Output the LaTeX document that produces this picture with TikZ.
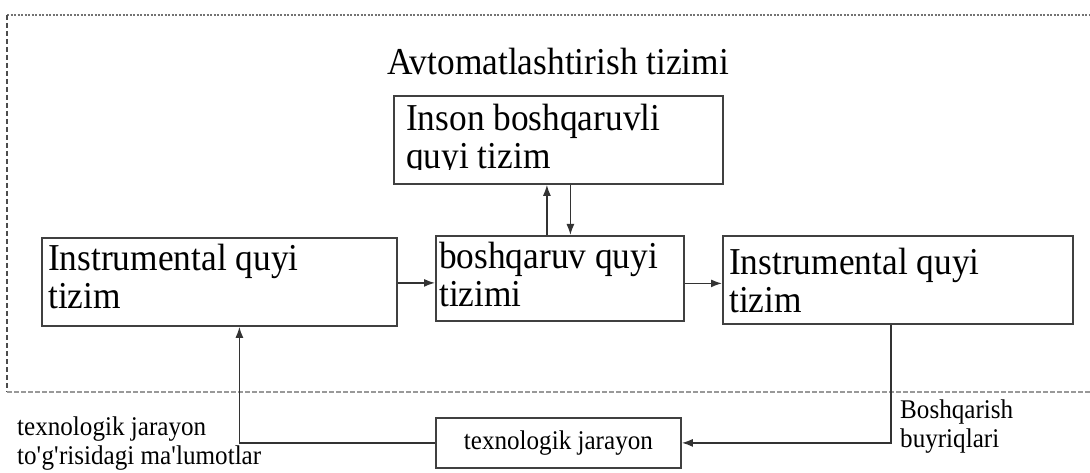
\documentclass[tikz,border=0pt]{standalone}
\usepackage{fontspec}
\setmainfont{Liberation Serif}[FakeStretch=0.93]
\usetikzlibrary{arrows.meta}
\begin{document}
\begin{tikzpicture}[x=1pt,y=-1pt,
  box/.style={draw=black!75, line width=1.8pt, rectangle, inner sep=0pt, anchor=north west},
  big/.style={font=\fontsize{38}{38}\selectfont, align=left, inner sep=0pt, anchor=north west},
  small/.style={font=\fontsize{27}{29}\selectfont, align=left, inner sep=0pt},
  link/.style={draw=black!80, line width=1.5pt, -{Latex[length=11pt,width=8pt]}},
  frametop/.style={draw=black!55, line width=1.2pt, dash pattern=on 2pt off 1.5pt},
  frameleft/.style={draw=black!70, line width=1.2pt, dash pattern=on 5pt off 3pt},
  framebottom/.style={draw=black!40, line width=2.6pt, dash pattern=on 5pt off 2pt}]
\useasboundingbox (0,0) rectangle (1090,473);

% system boundary
\draw[frametop] (7,15) -- (1090,15);
\draw[frameleft] (7,15) -- (7,392);
\draw[framebottom] (7,392) -- (1090,392);

\node[font=\fontsize{38}{38}\selectfont, inner sep=0pt] (title) at (558,62) {Avtomatlashtirish tizimi};

% blocks
\node[box, minimum width=329pt, minimum height=88pt] (T) at (393,95) {};
\node[box, minimum width=355pt, minimum height=88pt] (L) at (41,237) {};
\node[box, minimum width=248pt, minimum height=85pt] (M) at (435,235) {};
\node[box, minimum width=350pt, minimum height=88pt] (R) at (722,235) {};
\node[box, minimum width=245pt, minimum height=50pt] (B) at (435,417) {};

% block texts (the second line of the top block is cut by its frame)
\begin{scope}
  \clip (393,95) rectangle (722,169.5);
  \node[big] (Tt) at (406,104) {Inson boshqaruvli\\quyi tizim};
\end{scope}
\node[big] (Lt) at (48,244) {Instrumental quyi\\tizim};
\node[big] (Mt) at (439,242) {boshqaruv quyi\\tizimi};
\node[big] (Rt) at (729,248) {Instrumental quyi\\tizim};
\node[small] (Bt) at (B.center) {texnologik jarayon};

% side labels
\node[small, anchor=north west] (cmd) at (900,400) {Boshqarish\\buyriqlari};
\node[small, anchor=north west] (info) at (17,417) {texnologik jarayon\\to\textquotesingle g\textquotesingle risidagi ma\textquotesingle lumotlar};

% connections
\draw[link] ([yshift=-1pt]L.east) -- ([yshift=-1pt]L.east -| M.west);
\draw[link] ([yshift=-5pt]M.east) -- ([yshift=-5pt]M.east -| R.west);
\draw[link] ([xshift=-13pt]M.north) -- ([xshift=-13pt]M.north |- T.south);
\draw[link] ([xshift=12pt]T.south) -- ([xshift=12pt]T.south |- M.north);
\draw[link] ([xshift=-7pt]R.south) |- (B.east);
\draw[link] (B.west) -| ([xshift=20pt]L.south);
\end{tikzpicture}
\end{document}
